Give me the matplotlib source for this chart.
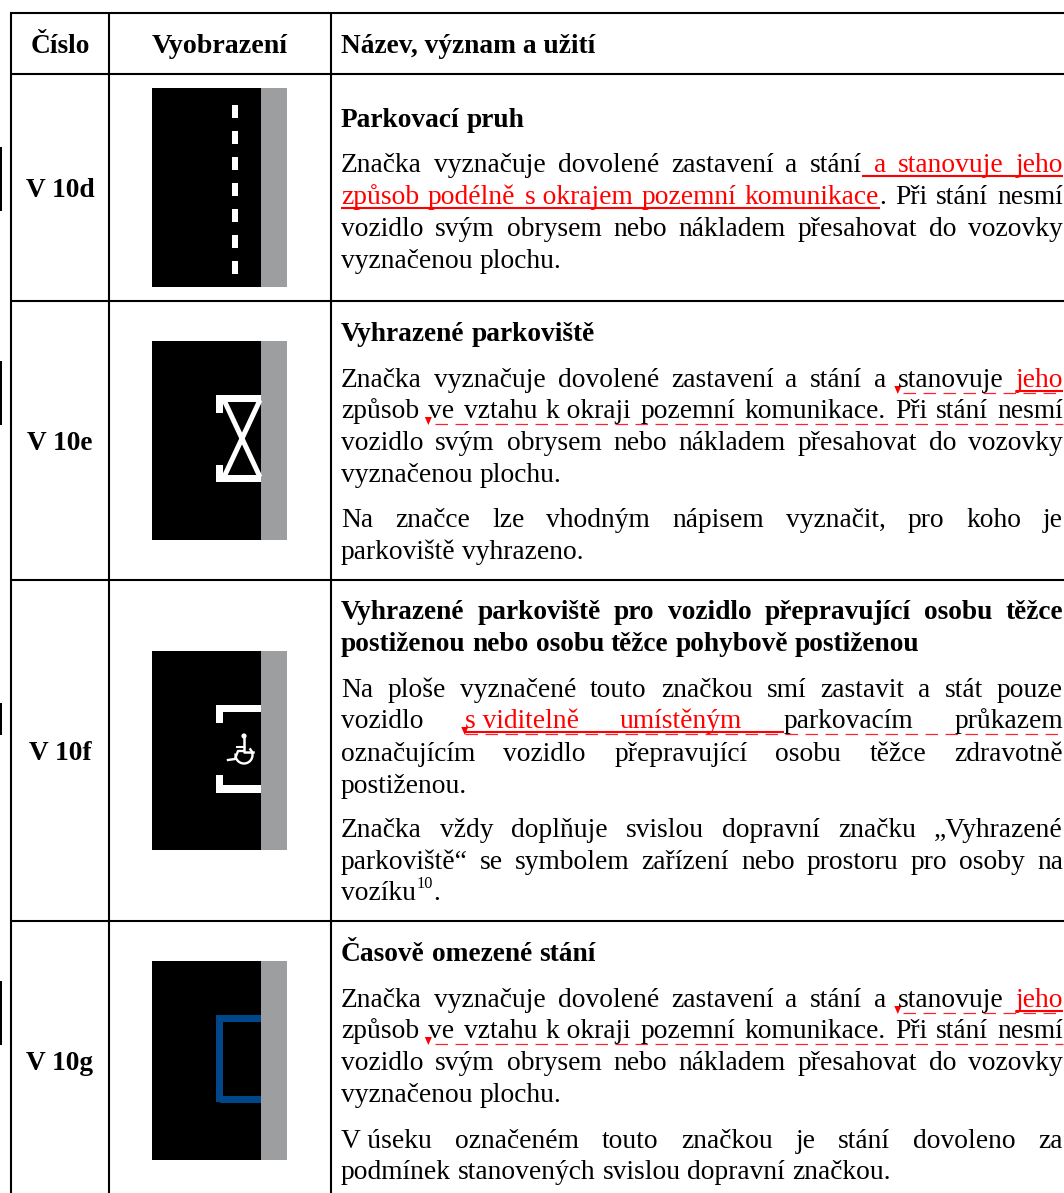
import matplotlib
matplotlib.use("Agg")
import matplotlib.pyplot as plt
from matplotlib.patches import Rectangle, Polygon, Arc, Circle

WIDTH, HEIGHT = 1064, 1193
FONT = "Liberation Serif"
SIZE = 19.85
BOLD_SIZE = 19.7
RED = "#ff0000"
TEXT_LEFT, TEXT_RIGHT = 341, 1063

headers = ["Číslo", "Vyobrazení", "Název, význam a užití"]
sign_codes = ["V 10d", "V 10e", "V 10f", "V 10g"]
code_baselines = [197, 450, 760, 1070]
row_lines = [13, 73.5, 300.5, 580, 920.5]
col_lines = [11, 109, 331]
image_tops = [88, 341, 651, 961]
side_marks = [(147, 211), (361, 425), (703, 735), (981, 1045)]
dash_tops = [105, 131, 157, 183, 209, 235, 261]

# baseline, justified?, bold?, words. "*" = red segment, "|" = no gap, "_" = narrow space
text_lines = [
    (127, False, True, "Parkovací pruh"),
    (172, True, False, "Značka vyznačuje dovolené zastavení a stání *a *stanovuje *jeho"),
    (204, True, False, "*způsob *podélně *s_okrajem *pozemní *komunikace|. Při stání nesmí"),
    (236, True, False, "vozidlo svým obrysem nebo nákladem přesahovat do vozovky"),
    (268, False, False, "vyznačenou plochu."),
    (341, False, True, "Vyhrazené parkoviště"),
    (387, True, False, "Značka vyznačuje dovolené zastavení a stání a stanovuje *jeho"),
    (418, True, False, "způsob ve vztahu k_okraji pozemní komunikace. Při stání nesmí"),
    (450, True, False, "vozidlo svým obrysem nebo nákladem přesahovat do vozovky"),
    (482, False, False, "vyznačenou plochu."),
    (527, True, False, "Na značce lze vhodným nápisem vyznačit, pro koho je"),
    (559, False, False, "parkoviště vyhrazeno."),
    (619, True, True, "Vyhrazené parkoviště pro vozidlo přepravující osobu těžce"),
    (651, False, True, "postiženou nebo osobu těžce pohybově postiženou"),
    (697, True, False, "Na ploše vyznačené touto značkou smí zastavit a stát pouze"),
    (728, True, False, "vozidlo *s_viditelně *umístěným parkovacím průkazem"),
    (761, True, False, "označujícím vozidlo přepravující osobu těžce zdravotně"),
    (793, False, False, "postiženou."),
    (837, True, False, "Značka vždy doplňuje svislou dopravní značku „Vyhrazené"),
    (869, True, False, "parkoviště“ se symbolem zařízení nebo prostoru pro osoby na"),
    (900, False, False, "vozíku"),
    (961, False, True, "Časově omezené stání"),
    (1007, True, False, "Značka vyznačuje dovolené zastavení a stání a stanovuje *jeho"),
    (1038, True, False, "způsob ve vztahu k_okraji pozemní komunikace. Při stání nesmí"),
    (1070, True, False, "vozidlo svým obrysem nebo nákladem přesahovat do vozovky"),
    (1102, False, False, "vyznačenou plochu."),
    (1148, True, False, "V_úseku označeném touto značkou je stání dovoleno za"),
    (1179, False, False, "podmínek stanovených svislou dopravní značkou."),
]

fig = plt.figure(figsize=(WIDTH / 100, HEIGHT / 100), dpi=100)
ax = fig.add_axes([0, 0, 1, 1])
ax.set_xlim(0, WIDTH)
ax.set_ylim(HEIGHT, 0)
ax.axis("off")
renderer = fig.canvas.get_renderer()


def text_width(s, bold):
    t = ax.text(0, 0, s, family=FONT, size=BOLD_SIZE if bold else SIZE,
                weight="bold" if bold else "normal")
    w, _, _ = renderer.get_text_width_height_descent(s, t.get_fontproperties(), False)
    t.remove()
    return w * 100 / fig.dpi


def draw_line(y, justified, bold, line):
    # returns the (x0, x1) span of every word so underlines can follow them
    words = line.split(" ")
    parts = [[(p.lstrip("*").replace("_", " "), p.startswith("*")) for p in w.split("|")] for w in words]
    widths = [sum(text_width(s, bold) for s, _ in w) for w in parts]
    gap = text_width(" ", bold)
    if justified and len(words) > 1:
        gap = (TEXT_RIGHT - TEXT_LEFT - sum(widths)) / (len(words) - 1)
    x = TEXT_LEFT
    spans = []
    for w, width in zip(parts, widths):
        px = x
        for s, is_red in w:
            ax.text(px, y, s, family=FONT, size=BOLD_SIZE if bold else SIZE,
                    weight="bold" if bold else "normal",
                    color=RED if is_red else "black", va="baseline", ha="left")
            px += text_width(s, bold)
        spans.append((x, x + width))
        x += width + gap
    return spans


def solid(y, x0, x1):
    ax.plot([x0, x1], [y, y], color=RED, lw=1.5, solid_capstyle="butt")


def dashed(y, x0, x1):
    ax.plot([x0, x1], [y, y], color="#ff2030", lw=0.9, dashes=(10, 6))


def comment_arrow(x, y):
    ax.add_patch(Polygon([(x - 3.5, y - 4), (x + 3.5, y - 4), (x, y + 4)], closed=True,
                         facecolor=RED, edgecolor="none"))


def bar(x0, y0, x1, y1, color="white"):
    ax.add_patch(Rectangle((x0, y0), x1 - x0, y1 - y0, facecolor=color, edgecolor="none"))


spans = {}
for y, justified, bold, line in text_lines:
    spans[y] = draw_line(y, justified, bold, line)

# superscript footnote on the last line of V 10f
ax.text(417, 888, "10", family=FONT, size=11.7, va="baseline", ha="left")
ax.text(433, 900, ".", family=FONT, size=SIZE, va="baseline", ha="left")

# tracked changes in the last column
solid(176, spans[172][5][1], spans[172][8][1])
solid(207.5, spans[204][0][0], spans[204][4][1] - 6)
for base, base2 in [(387, 418), (1007, 1038)]:
    solid(base + 4, spans[base][8][0], TEXT_RIGHT)
    dashed(base + 5.5, spans[base][7][0] + 5, TEXT_RIGHT)
    dashed(base2 + 6, spans[base2][1][0] + 7, TEXT_RIGHT)
    comment_arrow(spans[base][7][0], base + 3)
    comment_arrow(spans[base2][1][0], base2 + 3)
solid(732, spans[728][1][0], spans[728][3][0])
dashed(734, spans[728][1][0], TEXT_RIGHT)
comment_arrow(spans[728][1][0], 731)

# table rules
for y in row_lines:
    ax.plot([col_lines[0] - 1, WIDTH], [y, y], color="black", lw=1.5, solid_capstyle="butt")
for x in col_lines:
    ax.plot([x, x], [row_lines[0], HEIGHT], color="black", lw=1.5, solid_capstyle="butt")
for y0, y1 in side_marks:
    bar(0, y0, 2, y1, color="black")

# headers and sign codes
ax.text(60, 53, headers[0], family=FONT, size=BOLD_SIZE, weight="bold", ha="center", va="baseline")
ax.text(220, 53, headers[1], family=FONT, size=20.2, weight="bold", ha="center", va="baseline")
ax.text(TEXT_LEFT, 53, headers[2], family=FONT, size=BOLD_SIZE, weight="bold", ha="left", va="baseline")
for code, y in zip(sign_codes, code_baselines):
    ax.text(60, y, code, family=FONT, size=BOLD_SIZE, weight="bold", ha="center", va="baseline")

# sign pictures
for top in image_tops:
    bar(152, top, 261, top + 199, color="black")
    bar(261, top, 287, top + 199, color="#9d9e9f")

for d in dash_tops:
    bar(232, d, 238, d + 13)

# V 10e hourglass
t = image_tops[1] + 54
bar(216, t, 261, t + 7)
bar(216, t, 223, t + 18)
bar(216, t + 80, 261, t + 87)
bar(216, t + 70, 223, t + 87)
ax.plot([224, 260], [t + 5, t + 82], color="white", lw=3.6, solid_capstyle="butt")
ax.plot([260, 224], [t + 5, t + 82], color="white", lw=3.6, solid_capstyle="butt")
bar(261, t, 287, t + 87, color="#9d9e9f")

# V 10f bracket and wheelchair
t = image_tops[2] + 54
bar(216, t, 261, t + 7)
bar(216, t, 223, t + 18)
bar(216, t + 80, 261, t + 88)
bar(216, t + 70, 223, t + 88)
ax.add_patch(Circle((244, 736), 2.6, facecolor="white", edgecolor="none"))
ax.plot([244, 244, 253], [736, 752, 752], color="white", lw=1.8)
ax.plot([237, 244], [747, 747], color="white", lw=1.5)
ax.plot([243, 238, 235, 228], [751, 751, 759, 760], color="white", lw=1.7)
ax.add_patch(Arc((244, 755), 17, 17, theta1=-50, theta2=190, color="white", lw=1.7))

# V 10g blue box
t = image_tops[3] + 54
BLUE = "#00468b"
bar(216, t, 261, t + 7, color=BLUE)
bar(216, t, 223, t + 87, color=BLUE)
bar(220, t + 81, 261, t + 88, color=BLUE)

fig.savefig("out.png", dpi=100, facecolor="white")
